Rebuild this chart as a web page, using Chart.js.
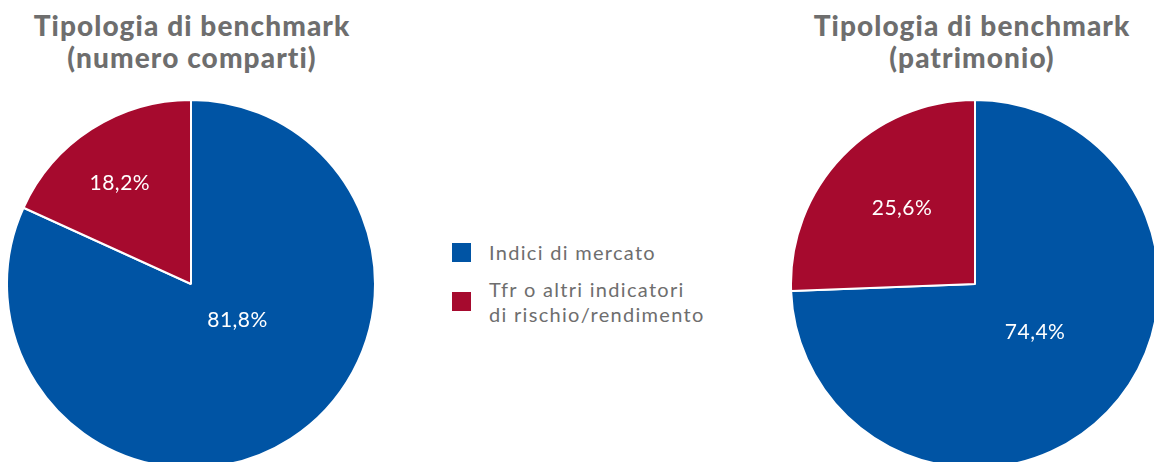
<!DOCTYPE html>
<html>
<head>
<meta charset="utf-8">
<script src="https://cdn.jsdelivr.net/npm/chart.js@4/dist/chart.umd.min.js"></script>
<style>
    html, body { margin: 0; padding: 0; width: 1154px; height: 462px; overflow: hidden; background: #fff; }
    body { position: relative; font-family: Lato, "Open Sans", sans-serif; }
    .title { position: absolute; top: 9px; width: 400px; text-align: center; font-weight: 900; font-size: 28px; line-height: 32px; color: #6e6e6e; letter-spacing: 1.1px; }
    .pie { position: absolute; top: 99px; width: 370px; height: 370px; }
    #legend { position: absolute; left: 452px; top: 240px; color: #6e6e6e; font-size: 20px; line-height: 25px; letter-spacing: 1.3px; }
    .item { position: relative; padding-left: 37px; margin-bottom: 12px; }
    .item span { position: absolute; left: 0; width: 19px; height: 19px; }
</style>
</head>
<body>
<div class="title" id="title-left" style="left: -8px;"></div>
<div class="title" id="title-right" style="left: 772px;"></div>
<div class="pie" style="left: 6px;"><canvas id="pie-left"></canvas></div>
<div class="pie" style="left: 790px;"><canvas id="pie-right"></canvas></div>
<div id="legend"></div>

<script>
    const categories = ["Indici di mercato", "Tfr o altri indicatori\ndi rischio/rendimento"];
    const numeroComparti = [81.8, 18.2];
    const patrimonio = [74.4, 25.6];
    const titles = ["Tipologia di benchmark\n(numero comparti)", "Tipologia di benchmark\n(patrimonio)"];
    const colors = ["#0054a4", "#a60a2e"];

    $ = id => document.getElementById(id);
    $("title-left").innerHTML = titles[0].replace("\n", "<br>");
    $("title-right").innerHTML = titles[1].replace("\n", "<br>");

    // legend
    $("legend").innerHTML = categories.map((c, i) => {
        let top = i === 0 ? 3 : 15;
        return `<div class="item"><span style="background:${colors[i]}; top:${top}px"></span>${c.replace("\n", "<br>")}</div>`;
    }).join("");

    // draws the percent labels inside the slices (dist = share of radius, turn = degrees off the mid angle)
    const sliceLabels = {
        id: "sliceLabels",
        afterDatasetsDraw(chart, args, opts) {
            const ctx = chart.ctx;
            const meta = chart.getDatasetMeta(0);
            ctx.save();
            ctx.fillStyle = "#fff";
            ctx.font = "21px Lato, sans-serif";
            ctx.letterSpacing = "0.5px";
            ctx.textAlign = "center";
            ctx.textBaseline = "middle";
            meta.data.forEach((arc, i) => {
                const p = arc.getProps(["x", "y", "startAngle", "endAngle", "outerRadius"]);
                const mid = (p.startAngle + p.endAngle) / 2 + opts.turn[i] * Math.PI / 180;
                const r = p.outerRadius * opts.dist[i];
                const v = chart.data.datasets[0].data[i];
                ctx.fillText(v.toFixed(1).replace(".", ",") + "%", p.x + Math.cos(mid) * r, p.y + Math.sin(mid) * r);
            });
            ctx.restore();
        }
    };

    function makePie(id, values, dist, turn) {
        return new Chart($(id), {
            type: "pie",
            data: {
                labels: categories,
                datasets: [{
                    data: values,
                    backgroundColor: colors,
                    borderColor: "#fff",
                    borderWidth: 2,
                }]
            },
            options: {
                responsive: false,
                animation: false,
                layout: { padding: 0 },
                plugins: {
                    legend: { display: false },
                    tooltip: { enabled: false },
                    sliceLabels: { dist: dist, turn: turn },
                },
            },
            plugins: [sliceLabels],
        });
    }

    $("pie-left").width = 370; $("pie-left").height = 370;
    $("pie-right").width = 370; $("pie-right").height = 370;
    makePie("pie-left", numeroComparti, [0.32, 0.67], [-19.5, -2.5]);
    makePie("pie-right", patrimonio, [0.42, 0.57], [-5, 2]);
</script>
</body>
</html>
